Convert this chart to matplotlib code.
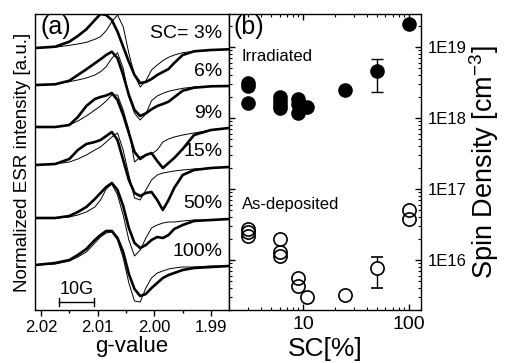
import numpy as np
import matplotlib
matplotlib.use('Agg')
import matplotlib.pyplot as plt
from matplotlib.ticker import FixedLocator, FuncFormatter, LogLocator, NullFormatter

plt.rcParams['font.family'] = ['Liberation Sans', 'DejaVu Sans']
plt.rcParams['mathtext.fontset'] = 'custom'
plt.rcParams['mathtext.rm'] = 'Liberation Sans'

# ---- (a) ESR spectra (a.u.) ----
g_value = [2.021, 2.0175, 2.015, 2.0135, 2.012, 2.0105, 2.0095, 2.0085, 2.0075,
           2.0065, 2.0055, 2.0045, 2.0035, 2.0025, 2.0015, 2.0005, 1.9995,
           1.9985, 1.9975, 1.9965, 1.995, 1.993, 1.990, 1.9868]
sc_labels = ['SC= 3%', '6%', '9%', '15%', '50%', '100%']

thick_3 = [0, 1.3, 6.3, 12, 18.7, 28, 34, 33, 28, 16.3, 1.3, -13.7, -27, -35,
           -34, -31, -27, -24, -21, -15, -7, -3.3, -2, -1.3]
thin_3 = [0, 0.7, 2.7, 4, 5.7, 8.7, 11.3, 17.3, 26.3, 33, 21.3, -5.3, -27, -39,
          -32.7, -22, -17, -12.7, -9.3, -7, -4.7, -3.3, -2, -1.3]
thick_6 = [0, 0.7, 4.3, 10, 15.7, 21.7, 25.7, 30, 33.3, 26.7, 10, -10, -25, -31,
           -28.3, -24.3, -21, -19, -16.7, -12.3, -5.7, -2.7, -1.3, -1]
thin_6 = [0, 1, 3.3, 5, 7, 10, 13.3, 18.3, 26.7, 32.3, 16.7, -11.7, -28.3, -35,
          -29, -15.7, -11, -8.3, -6.3, -5, -3.3, -2, -1.3, -1]
thick_9 = [0, 0, 2, 10, 21, 28, 30, 31.5, 34, 27, 12, -6, -25, -32, -28, -26,
           -34, -41, -36, -31, -22, -8, -3, -1]
thin_9 = [0, 0, 2, 6, 11, 17, 21, 26, 32, 32, 17, -3, -35, -30, -28, -27, -23,
          -15, -12, -10, -8, -6, -3, -1]
thick_15 = [0, 1, 6, 15, 21, 23, 25, 29, 33, 25, 5, -15, -28, -31, -28, -27,
            -35, -45, -35, -23, -10, -5, -3, -2]
thin_15 = [0, 1, 3, 6, 10, 15, 18, 23, 28, 32, 15, -10, -33, -35, -25, -15,
           -10, -8, -7, -6, -5, -4, -3, -2]
thick_50 = [0, 0, 2, 6, 11, 19, 25, 31, 35, 28, 12, -10, -25, -30, -27, -22,
            -19, -20, -17, -11, -7, -3, -2, -1]
thin_50 = [0, 0, 1, 3, 6, 11, 18, 29, 34, 23, 3, -22, -38, -32, -20, -10, -7,
           -5, -4, -4, -3, -2, -2, -1]
thick_100 = [0, 2, 5, 10, 16, 25, 30, 34, 34, 27, 13, -9, -24, -31, -29, -23,
             -18, -13, -10, -8, -5, -3, -2, -1]
thin_100 = [0, 1, 4, 8, 13, 22, 28, 32, 33, 25, 7, -18, -36, -37, -23, -13, -8,
            -6, -4, -3, -2, -2, -1, -1]

thick_curves = [thick_3, thick_6, thick_9, thick_15, thick_50, thick_100]
thin_curves = [thin_3, thin_6, thin_9, thin_15, thin_50, thin_100]
offsets = [262, 225, 183, 145, 92, 45]
scale_bar_g = [2.0168, 2.0107]

# ---- (b) spin density vs SC ----
sc_irr = [3, 3, 3, 6, 6, 6, 6, 9, 9, 9, 11, 25, 100]
dens_irr = [3.1e18, 2.8e18, 1.63e18, 1.98e18, 1.73e18, 1.52e18, 1.38e18,
            1.88e18, 1.57e18, 1.16e18, 1.43e18, 2.48e18, 2.1e19]
sc_ad = [3, 3, 3, 6, 6, 6, 9, 9, 11, 25, 100, 100]
dens_ad = [2.7e16, 2.5e16, 2.2e16, 1.98e16, 1.3e16, 1.14e16, 5.6e15, 4.3e15,
           3.0e15, 3.2e15, 5.1e16, 3.8e16]
sc_err = [50]
irr_err = [4.6e18]
irr_lo = [2.3e18]
irr_hi = [6.8e18]
ad_err = [7.7e15]
ad_lo = [4.0e15]
ad_hi = [1.1e16]

fig = plt.figure(figsize=(5.06, 3.63), dpi=100)
ax_a = fig.add_axes([35 / 506, 53 / 363, 194 / 506, 296 / 363])
ax_b = fig.add_axes([229 / 506, 53 / 363, 192 / 506, 296 / 363])

g = np.array(g_value)
for thick, thin, off, lab in zip(thick_curves, thin_curves, offsets, sc_labels):
    ax_a.plot(g, off + np.array(thin), color='black', lw=0.7)
    ax_a.plot(g, off + np.array(thick), color='black', lw=1.9)
    ax_a.text(0.965, off + 14, lab, transform=ax_a.get_yaxis_transform(),
              ha='right', va='center', fontsize=14)

ax_a.plot(scale_bar_g, [8, 8], color='black', lw=1)
for gb in scale_bar_g:
    ax_a.plot([gb, gb], [4, 12], color='black', lw=1)
ax_a.text(np.mean(scale_bar_g), 12, '10G', ha='center', va='bottom', fontsize=13)

ax_a.set_xlim(2.02106, 1.98683)
ax_a.set_ylim(0, 296)
ax_a.set_xticks([2.02, 2.01, 2.00, 1.99])
ax_a.set_xticklabels(['2.02', '2.01', '2.00', '1.99'])
ax_a.xaxis.set_minor_locator(FixedLocator([2.015, 2.005, 1.995]))
ax_a.tick_params(axis='x', which='major', direction='out', length=4, width=1,
                 labelsize=12, pad=3)
ax_a.tick_params(axis='x', which='minor', direction='out', length=2.5, width=1)
ax_a.tick_params(axis='y', left=False, labelleft=False)
ax_a.set_xlabel('g-value', fontsize=16, labelpad=1)
ax_a.set_ylabel('Normalized ESR intensity [a.u.]', fontsize=13.5, labelpad=3)
ax_a.text(0.026, 0.995, '(a)', transform=ax_a.transAxes, ha='left', va='top',
          fontsize=18)

ax_b.plot(sc_irr, dens_irr, 'o', ms=9.5, color='black')
ax_b.errorbar(sc_err, irr_err,
              yerr=[np.array(irr_err) - irr_lo, np.array(irr_hi) - irr_err],
              fmt='o', ms=9.5, color='black', ecolor='black', elinewidth=1,
              capsize=4, capthick=1)
ax_b.plot(sc_ad, dens_ad, 'o', ms=9.5, mfc='none', mec='black', mew=1.2)
ax_b.errorbar(sc_err, ad_err,
              yerr=[np.array(ad_err) - ad_lo, np.array(ad_hi) - ad_err],
              fmt='o', ms=9.5, mfc='white', mec='black', mew=1.2,
              ecolor='black', elinewidth=1, capsize=4, capthick=1)

ax_b.set_xscale('log')
ax_b.set_yscale('log')
ax_b.set_xlim(2, 130)
ax_b.set_ylim(10 ** 15.296, 10 ** 19.465)
ax_b.set_xticks([10, 100])
ax_b.set_xticklabels(['10', '100'])
ax_b.xaxis.set_minor_locator(LogLocator(base=10, subs=np.arange(2, 10)))
ax_b.xaxis.set_minor_formatter(NullFormatter())
ax_b.yaxis.set_major_locator(FixedLocator([1e16, 1e17, 1e18, 1e19]))
ax_b.yaxis.set_major_formatter(
    FuncFormatter(lambda v, p: '1E%d' % round(np.log10(v))))
ax_b.yaxis.set_minor_locator(LogLocator(base=10, subs=np.arange(2, 10)))
ax_b.yaxis.set_minor_formatter(NullFormatter())
ax_b.tick_params(which='both', direction='in', top=True, bottom=True,
                 left=True, right=True, labelleft=False, labelright=True)
ax_b.tick_params(which='major', length=4, width=1)
ax_b.tick_params(which='minor', length=2.5, width=0.8)
ax_b.tick_params(axis='y', labelsize=12, pad=5)
ax_b.tick_params(axis='x', labelsize=14, pad=4)
ax_b.yaxis.set_label_position('right')
ax_b.set_ylabel(r'Spin Density [cm$^{-3}$]', fontsize=19.5, labelpad=0)
ax_b.set_xlabel('SC[%]', fontsize=19, labelpad=3)
ax_b.text(0.026, 0.995, '(b)', transform=ax_b.transAxes, ha='left', va='top',
          fontsize=18)
ax_b.text(0.065, 0.855, 'Irradiated', transform=ax_b.transAxes, ha='left',
          va='center', fontsize=12)
ax_b.text(0.065, 0.355, 'As-deposited', transform=ax_b.transAxes, ha='left',
          va='center', fontsize=12)

for ax in (ax_a, ax_b):
    for s in ax.spines.values():
        s.set_linewidth(1)

fig.savefig('out.png', dpi=100)
